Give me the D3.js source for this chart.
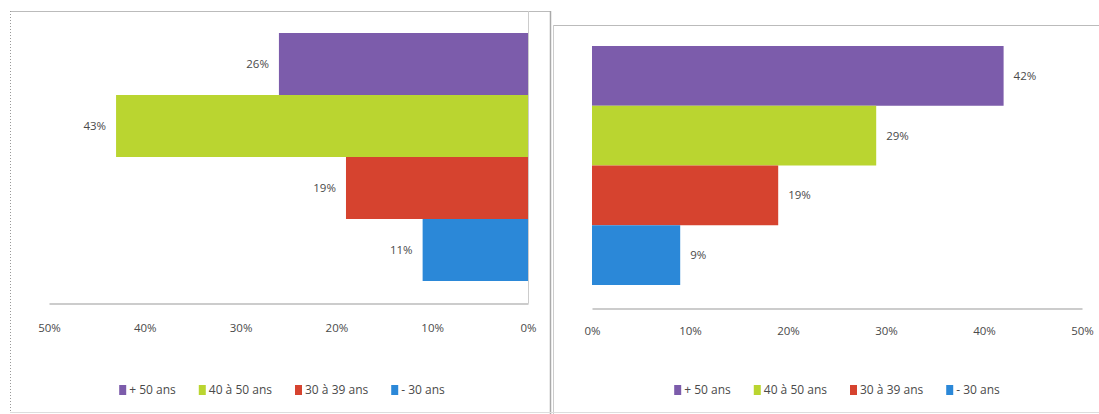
<!DOCTYPE html>
<html>
<head>
<meta charset="utf-8">
<script src="https://cdn.jsdelivr.net/npm/d3@7"></script>
<style>
  body { margin: 0; background: #fff; }
  svg { display: block; }
  text { font-family: "Open Sans", "DejaVu Sans", sans-serif; fill: #4a4a4a; }
</style>
</head>
<body>
<svg id="chart" width="1099" height="414"></svg>
<script>
const categories = ["+ 50 ans", "40 à 50 ans", "30 à 39 ans", "- 30 ans"];
const leftValues = [0.26, 0.43, 0.19, 0.11];
const rightValues = [0.42, 0.29, 0.19, 0.09];
const tickValues = [0, 0.1, 0.2, 0.3, 0.4, 0.5];
const colors = ["#7c5cab", "#bad530", "#d6432f", "#2b88d8"];

const svg = d3.select("#chart");
const color = d3.scaleOrdinal(categories, colors);
const fmt = d3.format(".0%");

// panel frames
const frame = svg.append("g").attr("fill", "none");
frame.append("line").attr("x1", 10).attr("x2", 550).attr("y1", 11.5).attr("y2", 11.5).attr("stroke", "#bbb");
frame.append("line").attr("x1", 10.5).attr("x2", 10.5).attr("y1", 11).attr("y2", 412).attr("stroke", "#999").attr("stroke-dasharray", "1,2");
frame.append("line").attr("x1", 550.5).attr("x2", 550.5).attr("y1", 11).attr("y2", 414).attr("stroke", "#aaa").attr("stroke-width", 1.5);
frame.append("line").attr("x1", 553).attr("x2", 1099).attr("y1", 25.5).attr("y2", 25.5).attr("stroke", "#bbb");
frame.append("line").attr("x1", 553.5).attr("x2", 553.5).attr("y1", 25).attr("y2", 414).attr("stroke", "#ccc");
frame.append("line").attr("x1", 10).attr("x2", 1099).attr("y1", 412.5).attr("y2", 412.5).attr("stroke", "#ddd");

function drawPanel(cfg) {
  const g = svg.append("g");
  const x = d3.scaleLinear().domain([0, 0.5]).range(cfg.xRange);
  const y = d3.scaleBand().domain(categories).range(cfg.yRange).padding(0);
  const x0 = x(0);

  if (cfg.frameRight) {
    g.append("line").attr("x1", x0 + 0.5).attr("x2", x0 + 0.5).attr("y1", 11).attr("y2", cfg.axisY)
      .attr("stroke", "#ccc");
  }

  g.selectAll("rect.bar").data(cfg.values).join("rect")
    .attr("class", "bar")
    .attr("x", (d) => Math.min(x0, x(d)))
    .attr("width", (d) => Math.abs(x(d) - x0))
    .attr("y", (d, i) => y(categories[i]))
    .attr("height", y.bandwidth())
    .attr("fill", (d, i) => color(categories[i]));

  g.selectAll("text.lbl").data(cfg.values).join("text")
    .attr("class", "lbl")
    .attr("x", (d) => x(d) + cfg.labelDir * 10)
    .attr("y", (d, i) => y(categories[i]) + y.bandwidth() / 2)
    .attr("dy", "0.35em")
    .attr("text-anchor", cfg.labelDir < 0 ? "end" : "start")
    .attr("font-size", 11.5)
    .text((d) => fmt(d));

  const axis = d3.axisBottom(x).tickValues(tickValues).tickFormat(fmt).tickSize(0).tickPadding(cfg.tickPad);
  const ax = g.append("g").attr("transform", `translate(0,${cfg.axisY})`).call(axis);
  ax.select(".domain").attr("stroke", "#bbb").attr("stroke-width", 1.5);
  ax.selectAll(".tick text").attr("font-size", 11.5).attr("fill", "#4a4a4a")
    .style("font-family", '"Open Sans", "DejaVu Sans", sans-serif');

  // legend
  const leg = g.append("g");
  const items = leg.selectAll("g").data(categories).join("g");
  items.append("rect").attr("width", 7).attr("height", 10).attr("y", -5)
    .attr("fill", (d) => color(d));
  items.append("text").attr("x", 10).attr("dy", "0.35em").attr("font-size", 12).text((d) => d);
  const gap = 23;
  let pos = 0;
  const offs = [];
  items.each(function () {
    const w = 10 + d3.select(this).select("text").node().getComputedTextLength();
    offs.push(pos);
    pos += w + gap;
  });
  const total = pos - gap;
  const start = cfg.legendCenter - total / 2;
  items.attr("transform", (d, i) => `translate(${start + offs[i]},${cfg.legendY})`);
}

drawPanel({
  values: leftValues, xRange: [528, 49], yRange: [33, 281], axisY: 303.5,
  tickPad: 20, labelDir: -1, frameRight: true, legendCenter: 282, legendY: 390
});
drawPanel({
  values: rightValues, xRange: [592, 1082], yRange: [46, 285], axisY: 308.5,
  tickPad: 18, labelDir: 1, frameRight: false, legendCenter: 837, legendY: 390
});
</script>
</body>
</html>
